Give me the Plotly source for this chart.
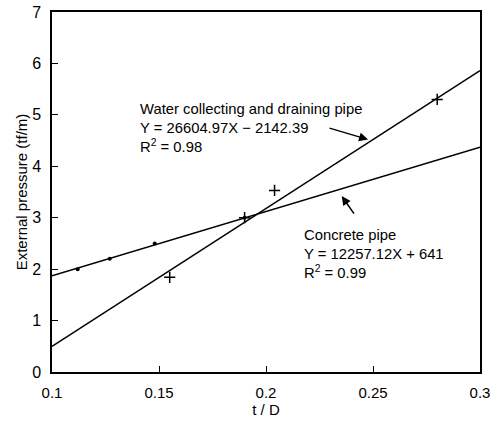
import plotly.graph_objects as go

# data
concrete_x = [0.112, 0.127, 0.148, 0.19]
concrete_y = [2.0, 2.2, 2.5, 3.0]
water_x = [0.155, 0.19, 0.204, 0.28]
water_y = [1.84, 3.0, 3.53, 5.3]

fit_x = [0.1, 0.3]
concrete_fit = [1.87, 4.37]
water_fit = [0.50, 5.86]

x_ticks = [0.1, 0.15, 0.2, 0.25, 0.3]
x_ticklabels = ["0.1", "0.15", "0.2", "0.25", "0.3"]
y_ticks = [0, 1, 2, 3, 4, 5, 6, 7]

water_label = "Water collecting and draining pipe<br>Y = 26604.97X − 2142.39<br>R<sup>2</sup> = 0.98"
concrete_label = "Concrete pipe<br>Y = 12257.12X + 641<br>R<sup>2</sup> = 0.99"

fig = go.Figure()
fig.add_trace(go.Scatter(x=fit_x, y=concrete_fit, mode="lines",
                         line=dict(color="black", width=1.5), showlegend=False))
fig.add_trace(go.Scatter(x=fit_x, y=water_fit, mode="lines",
                         line=dict(color="black", width=1.5), showlegend=False))
fig.add_trace(go.Scatter(x=concrete_x, y=concrete_y, mode="markers",
                         marker=dict(color="black", size=4, symbol="circle"),
                         showlegend=False))
fig.add_trace(go.Scatter(x=water_x, y=water_y, mode="markers",
                         marker=dict(color="black", size=8, symbol="cross-thin",
                                     line=dict(color="black", width=1.5)),
                         showlegend=False))

font = "Arial, Liberation Sans, sans-serif"

fig.add_annotation(x=0.1402, y=5.3, xref="x", yref="y", text=water_label,
                   showarrow=False, xanchor="left", yanchor="top", align="left",
                   font=dict(size=14.8, color="black", family=font))
fig.add_annotation(x=0.2167, y=2.86, xref="x", yref="y", text=concrete_label,
                   showarrow=False, xanchor="left", yanchor="top", align="left",
                   font=dict(size=14.8, color="black", family=font))

# arrows
fig.add_annotation(x=0.2477, y=4.52, ax=0.229, ay=4.75, xref="x", yref="y",
                   axref="x", ayref="y", text="", showarrow=True,
                   arrowhead=2, arrowsize=1.2, arrowwidth=1.5, arrowcolor="black")
fig.add_annotation(x=0.2354, y=3.42, ax=0.2416, ay=3.05, xref="x", yref="y",
                   axref="x", ayref="y", text="", showarrow=True,
                   arrowhead=2, arrowsize=1.2, arrowwidth=1.5, arrowcolor="black")

fig.update_layout(
    width=496, height=423,
    margin=dict(l=52, r=16, t=12, b=51),
    paper_bgcolor="white", plot_bgcolor="white",
    font=dict(family=font, color="black"),
)
fig.update_xaxes(range=[0.1, 0.3], tickvals=x_ticks, ticktext=x_ticklabels,
                 ticks="inside", ticklen=6, tickcolor="black",
                 showline=True, linecolor="black", linewidth=1.5, mirror=True,
                 showgrid=False, zeroline=False, automargin=False,
                 tickfont=dict(size=15), ticklabelstandoff=6,
                 title=dict(text="t / D", font=dict(size=15), standoff=4))
fig.update_yaxes(range=[0, 7], tickvals=y_ticks,
                 ticks="inside", ticklen=6, tickcolor="black",
                 showline=True, linecolor="black", linewidth=1.5, mirror=True,
                 showgrid=False, zeroline=False, automargin=False,
                 tickfont=dict(size=16), ticklabelstandoff=6,
                 title=dict(text="External pressure (tf/m)", font=dict(size=15), standoff=1))

fig.write_html("out.html", config={"displayModeBar": False},
               post_script="document.body.style.margin='0';document.body.style.overflow='hidden';")
